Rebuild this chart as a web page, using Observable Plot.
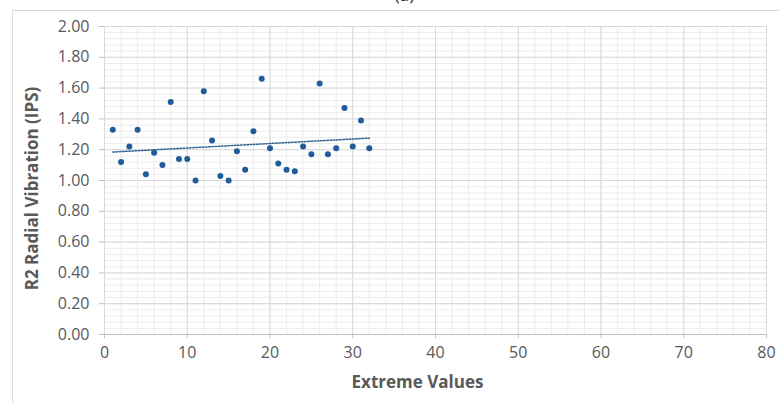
<!DOCTYPE html>
<html>
<head>
<meta charset="utf-8">
<script src="https://cdn.jsdelivr.net/npm/d3@7"></script>
<script src="https://cdn.jsdelivr.net/npm/@observablehq/plot@0.6"></script>
<style>
  html, body { margin: 0; padding: 0; background: #fff; }
  #wrap { position: relative; width: 779px; height: 403px; overflow: hidden; font-family: "Open Sans", sans-serif; }
  #box { position: absolute; left: 12px; top: 10px; width: 780px; height: 400px; border: 1px solid #d9d9d9; box-sizing: border-box; }
  #title { position: absolute; left: 0; width: 779px; top: -17px; text-align: center; font-size: 17px; color: #333; padding-left: 30px; box-sizing: border-box; }
  #chart { position: absolute; left: 0; top: 0; }
</style>
</head>
<body>
<div id="wrap">
  <div id="title">(a)</div>
  <div id="box"></div>
  <div id="chart"></div>
</div>
<script>
const extremeValues = [1,2,3,4,5,6,7,8,9,10,11,12,13,14,15,16,17,18,19,20,21,22,23,24,25,26,27,28,29,30,31,32];
const r2RadialVibration = [1.33,1.12,1.22,1.33,1.04,1.18,1.10,1.51,1.14,1.14,1.00,1.58,1.26,1.03,1.00,1.19,1.07,1.32,1.66,1.21,1.11,1.07,1.06,1.22,1.17,1.63,1.17,1.21,1.47,1.22,1.39,1.21];
const xTicks = [0,10,20,30,40,50,60,70,80];
const yTicks = [0,0.2,0.4,0.6,0.8,1.0,1.2,1.4,1.6,1.8,2.0];
const xMinor = d3.range(0, 81, 2);
const yMinor = d3.range(0, 51).map(i => i * 0.04);

const data = extremeValues.map((x, i) => ({x, y: r2RadialVibration[i]}));

const plot = Plot.plot({
  width: 779,
  height: 403,
  marginLeft: 104,
  marginRight: 13,
  marginTop: 26,
  marginBottom: 69,
  style: {fontFamily: "Open Sans, sans-serif", fontSize: "16px", color: "#595959", background: "transparent"},
  x: {domain: [0, 80], ticks: xTicks, label: null},
  y: {domain: [0, 2], ticks: yTicks, label: null},
  marks: [
    Plot.gridX(xMinor, {stroke: "#ececec", strokeOpacity: 1}),
    Plot.gridY(yMinor, {stroke: "#ececec", strokeOpacity: 1}),
    Plot.gridX(xTicks, {stroke: "#d9d9d9", strokeOpacity: 1}),
    Plot.gridY(yTicks, {stroke: "#d9d9d9", strokeOpacity: 1}),
    Plot.ruleY([0], {stroke: "#bfbfbf"}),
    Plot.axisX({ticks: xTicks, tickSize: 4, tickPadding: 8, stroke: "#bfbfbf", fill: "#595959", fontSize: 16, label: null}),
    Plot.axisY({ticks: yTicks, tickSize: 5, tickPadding: 10, stroke: "#bfbfbf", fill: "#595959", fontSize: 16, tickFormat: d => d.toFixed(2), label: null}),
    Plot.linearRegressionY(data, {x: "x", y: "y", ci: 0, stroke: "#2f5f94", strokeWidth: 1.5, strokeDasharray: "1.6,1.6"}),
    Plot.dot(data, {x: "x", y: "y", r: 3, fill: "#1f5c99", stroke: "none"}),
    Plot.text(["Extreme Values"], {frameAnchor: "bottom", dy: 53, fontWeight: "bold", fontSize: 17, fill: "#595959", dx: -18}),
    Plot.text(["R2 Radial Vibration (IPS)"], {frameAnchor: "left", dx: -72, dy: 8, rotate: -90, textAnchor: "middle", fontWeight: "bold", fontSize: 17, fill: "#595959"})
  ]
});
document.getElementById("chart").appendChild(plot);
</script>
</body>
</html>
